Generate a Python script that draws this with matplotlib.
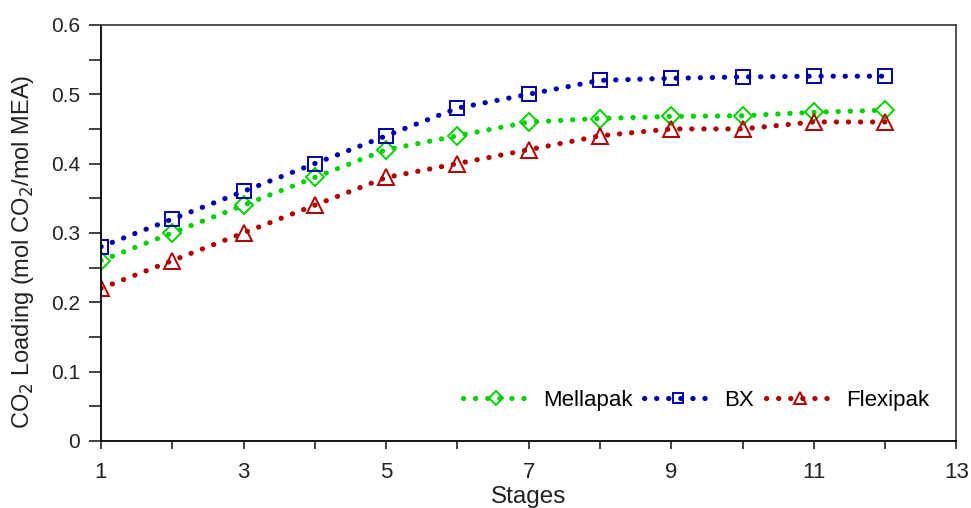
import matplotlib.pyplot as plt
import numpy as np

plt.rcParams['font.family'] = ['Liberation Sans', 'DejaVu Sans']

stages = [1, 2, 3, 4, 5, 6, 7, 8, 9, 10, 11, 12]
mellapak = [0.26, 0.30, 0.34, 0.38, 0.42, 0.44, 0.46, 0.465, 0.468, 0.469, 0.474, 0.477]
bx = [0.28, 0.32, 0.36, 0.40, 0.44, 0.48, 0.50, 0.52, 0.523, 0.525, 0.526, 0.526]
flexipak = [0.22, 0.26, 0.30, 0.34, 0.38, 0.40, 0.42, 0.44, 0.45, 0.45, 0.46, 0.46]

fig = plt.figure(figsize=(9.71, 5.08), dpi=100)
ax = fig.add_axes([0.104, 0.132, 0.881, 0.819])

style = dict(linestyle=(0, (0.05, 2.3)), linewidth=3.7, dash_capstyle='round',
             markerfacecolor='none', markeredgewidth=1.4)
ax.plot(stages, mellapak, color='#00d000', marker='D', markersize=9.5,
        label='Mellapak', **style)
ax.plot(stages, bx, color='#0000a8', marker='s', markersize=10,
        label='BX', **style)
ax.plot(stages, flexipak, color='#b00000', marker='^', markersize=12,
        label='Flexipak', **style)

ax.set_xlim(1, 13)
ax.set_ylim(0, 0.6)
ax.set_xticks(np.arange(1, 14, 2))
ax.set_xticks(np.arange(2, 13, 2), minor=True)
ax.set_yticks(np.arange(0, 0.61, 0.1))
ax.set_yticks(np.arange(0.05, 0.6, 0.1), minor=True)
ax.set_yticklabels(['0', '0.1', '0.2', '0.3', '0.4', '0.5', '0.6'])
ax.tick_params(axis='both', which='both', direction='out',
               colors='#222222', width=1.2)
ax.tick_params(axis='x', which='both', length=6, pad=9, labelsize=16)
ax.tick_params(axis='y', which='both', length=9, pad=6, labelsize=15)

for s in ax.spines.values():
    s.set_linewidth(1.3)
ax.spines['top'].set_color('#444444')
ax.spines['right'].set_color('#444444')

ax.set_xlabel('Stages', fontsize=17.5, labelpad=2, color='#222222')
ax.set_ylabel('CO$_2$ Loading (mol CO$_2$/mol MEA)', fontsize=17,
              color='#222222')
ax.yaxis.set_label_coords(-0.076, 0.455)

ax.legend(loc='lower right', ncol=3, frameon=False, fontsize=16,
          handlelength=3.0, handletextpad=0.6, columnspacing=0.55,
          bbox_to_anchor=(0.992, 0.025), markerscale=0.75)

fig.savefig('out.png', dpi=100)
